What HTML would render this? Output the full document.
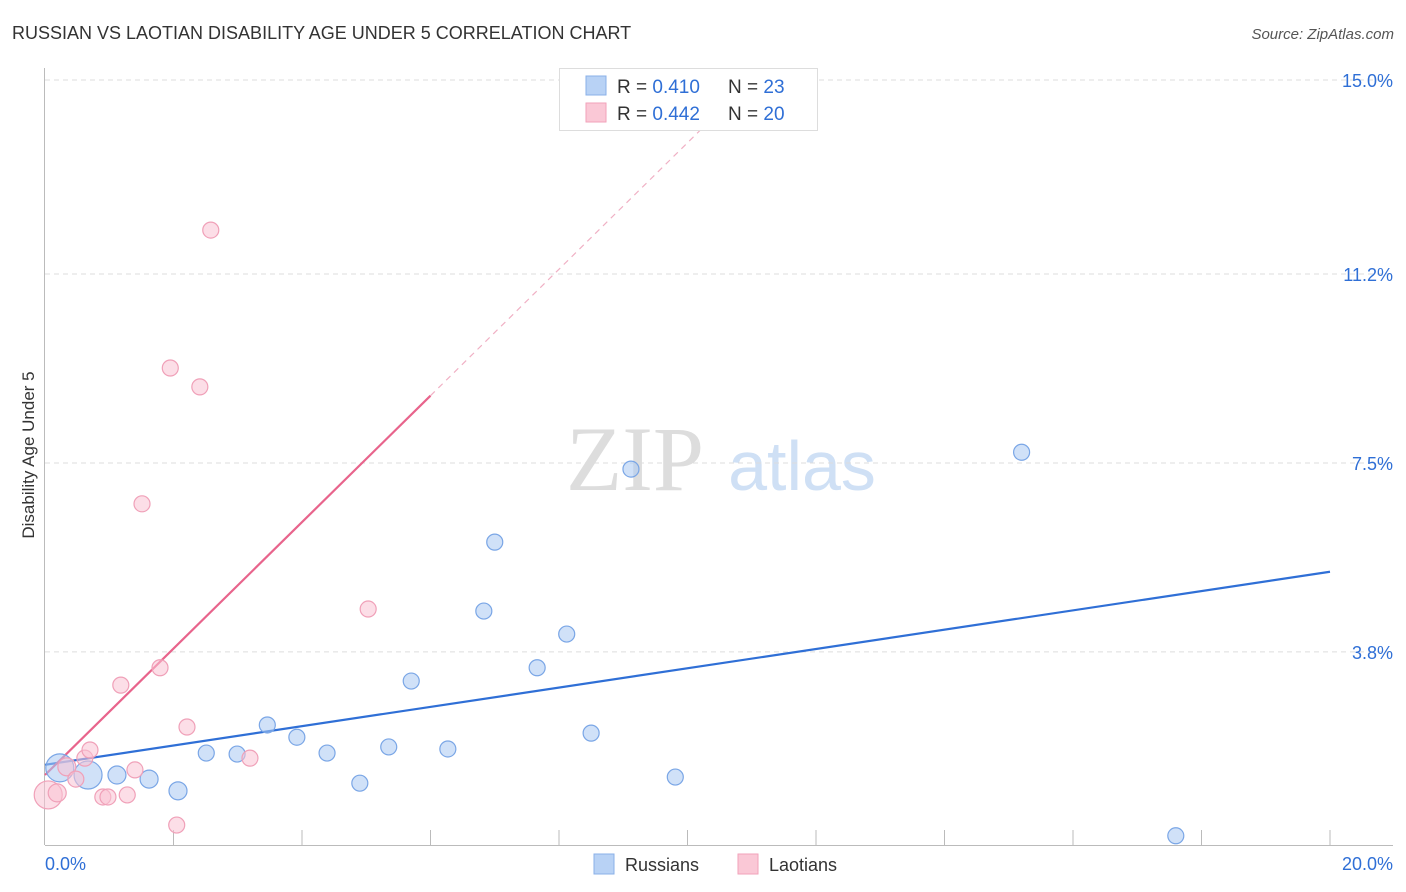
<!DOCTYPE html>
<html><head><meta charset="utf-8"><style>
body{margin:0;background:#fff;font-family:"Liberation Sans",sans-serif;}
svg{display:block}
</style></head><body>
<svg id="c" width="1406" height="892" xmlns="http://www.w3.org/2000/svg">
<text x="12" y="39" font-size="18" fill="#333">RUSSIAN VS LAOTIAN DISABILITY AGE UNDER 5 CORRELATION CHART</text>
<text x="1394" y="39" font-size="15" fill="#555" font-style="italic" text-anchor="end">Source: ZipAtlas.com</text>
<text x="34" y="455" font-size="17" fill="#333" text-anchor="middle" transform="rotate(-90 34 455)">Disability Age Under 5</text>
<g>
<text x="635" y="490" font-size="92" font-family="Liberation Serif,serif" fill="#ddd" text-anchor="middle">ZIP</text>
<text x="802" y="490" font-size="70" fill="#cfe0f5" text-anchor="middle">atlas</text>
</g>
<g id="grid"></g><g id="axes"></g><g id="lines"></g><g id="pts"></g>
<g>
<rect x="559.5" y="68.5" width="258" height="62" fill="#fff" stroke="#ddd"/>
<rect x="586" y="76" width="20" height="19" fill="#b8d2f5" stroke="#8ab0e8"/>
<rect x="586" y="103" width="20" height="19" fill="#fac8d6" stroke="#f2a2ba"/>
<text x="617" y="93" font-size="19" fill="#333">R = <tspan fill="#2f6fd6">0.410</tspan><tspan x="728">N = </tspan><tspan fill="#2f6fd6">23</tspan></text>
<text x="617" y="120" font-size="19" fill="#333">R = <tspan fill="#2f6fd6">0.442</tspan><tspan x="728">N = </tspan><tspan fill="#2f6fd6">20</tspan></text>
</g>
<g>
<rect x="594" y="854" width="20" height="20" fill="#b8d2f5" stroke="#8ab0e8"/>
<text x="625" y="871" font-size="18" fill="#333">Russians</text>
<rect x="738" y="854" width="20" height="20" fill="#fac8d6" stroke="#f2a2ba"/>
<text x="769" y="871" font-size="18" fill="#333">Laotians</text>
</g>
</svg>
<script>
const yTicks=[15.0,11.2,7.5,3.8];
const yTickLabels=["15.0%","11.2%","7.5%","3.8%"];
const xTickLabels=["0.0%","20.0%"];
const rusX=[0.23,0.67,1.12,1.62,2.07,2.51,2.99,3.46,3.92,4.39,4.9,5.35,5.7,6.27,6.83,7.0,7.66,8.12,8.5,9.12,9.81,15.2,17.6];
const rusY=[1.53,1.39,1.39,1.31,1.08,1.82,1.8,2.37,2.13,1.82,1.23,1.94,3.23,1.9,4.6,5.95,3.49,4.15,2.21,7.38,1.35,7.71,0.2];
const rusR=[14,14,9,9,9,8,8,8,8,8,8,8,8,8,8,8,8,8,8,8,8,8,8];
const laoX=[0.05,0.19,0.34,0.48,0.62,0.7,0.9,0.98,1.18,1.28,1.4,1.51,1.79,1.95,2.05,2.21,2.41,2.58,3.19,5.03];
const laoY=[1.0,1.04,1.55,1.31,1.72,1.88,0.96,0.96,3.15,1.0,1.49,6.7,3.49,9.36,0.41,2.33,8.99,12.06,1.72,4.64];
const laoR=[14,9,9,8,8,8,8,8,8,8,8,8,8,8,8,8,8,8,8,8];
const rusTrend=[1.59,5.37]; // value at x=0 and x=20
const laoTrend=[1.39,1.238]; // intercept, slope
const X=v=>45+v*64.25, Y=v=>846-v*51.07;
const NS="http://www.w3.org/2000/svg";
function mk(p,t,a){const e=document.createElementNS(NS,t);for(const k in a)e.setAttribute(k,a[k]);document.getElementById(p).appendChild(e);return e;}
yTicks.forEach((t,i)=>{
 const g=mk('grid','line',{x1:45,x2:1393,y1:Y(t),y2:Y(t),stroke:'#ddd','stroke-dasharray':'5,4'});
 
 
 const l=mk('grid','text',{x:1393,y:Y(t)+7,'font-size':18,fill:'#2f6fd6','text-anchor':'end'});
 l.textContent=yTickLabels[i];
 
 
});
const ax=mk('axes','line',{x1:45,x2:1393,y1:845.5,y2:845.5,stroke:'#bbb'});


const ay=mk('axes','line',{x1:44.5,x2:44.5,y1:68,y2:845,stroke:'#bbb'});


for(let i=1;i<=10;i++){const t=mk('axes','line',{x1:X(i*2),x2:X(i*2),y1:830,y2:845,stroke:'#bbb'});
 
 }
[[0,'start',45],[20,'end',1393]].forEach((d,i)=>{const t=mk('axes','text',{x:d[2],y:870,'font-size':18,fill:'#2f6fd6','text-anchor':d[1]});
 t.textContent=xTickLabels[i];
 
 });
rusX.forEach((x,i)=>{const c=mk('pts','circle',{cx:X(x),cy:Y(rusY[i]),r:rusR[i],fill:'rgba(170,200,243,0.55)',stroke:'#7aa6e6','stroke-width':1.2});
 
 });
laoX.forEach((x,i)=>{const c=mk('pts','circle',{cx:X(x),cy:Y(laoY[i]),r:laoR[i],fill:'rgba(250,195,212,0.55)',stroke:'#f0a0b8','stroke-width':1.2});
 
 });
const bl=mk('lines','line',{x1:X(0),y1:Y(rusTrend[0]),x2:X(20),y2:Y(rusTrend[1]),stroke:'#2f6fd6','stroke-width':2.2});


const lf=x=>laoTrend[0]+laoTrend[1]*x;
const pl=mk('lines','line',{x1:X(0),y1:Y(lf(0)),x2:X(6),y2:Y(lf(6)),stroke:'#e8648c','stroke-width':2.2});


const pd=mk('lines','line',{x1:X(6),y1:Y(lf(6)),x2:X(10.3),y2:Y(lf(10.3)),stroke:'#f0b0c4','stroke-width':1.2,'stroke-dasharray':'6,5'});


</script>
</body></html>
